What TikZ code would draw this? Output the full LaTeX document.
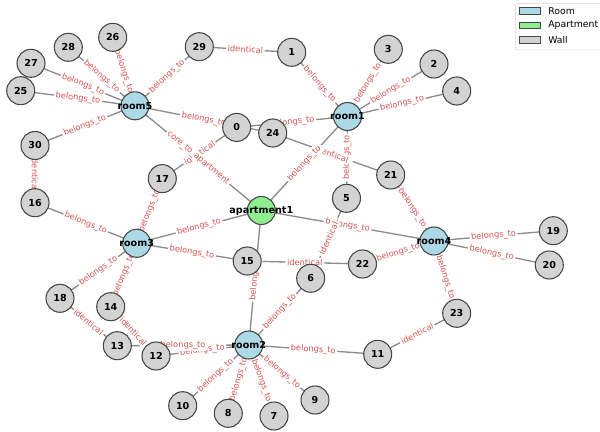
\documentclass[tikz,border=0pt]{standalone}
\usepackage{fontspec}
\setmainfont{DejaVu Sans}
\pgfdeclarelayer{edgelayer}
\pgfdeclarelayer{labellayer}
\pgfsetlayers{edgelayer,labellayer,main}
\definecolor{wallc}{RGB}{211,211,211}
\definecolor{roomc}{RGB}{173,216,230}
\definecolor{aptc}{RGB}{144,238,144}
\definecolor{edgec}{RGB}{140,140,140}
\definecolor{labc}{RGB}{218,82,82}
\definecolor{borderc}{RGB}{70,70,70}
\tikzset{
  base/.style={circle, draw=borderc, line width=0.8pt, minimum size=21pt, inner sep=0pt,
    font=\fontsize{7.2}{8}\selectfont\bfseries},
  wall/.style={base, fill=wallc},
  room/.style={base, fill=roomc},
  apt/.style={base, fill=aptc},
  nodelab/.style={font=\fontsize{7.2}{8}\selectfont\bfseries, inner sep=0pt, text=black},
  edgeline/.style={draw=edgec, line width=1pt},
  elab/.style={midway, sloped, fill=white, rounded corners=1.5pt, inner sep=1.2pt,
    text=labc, font=\fontsize{6.2}{7}\selectfont},
  legpatch/.style={draw=borderc, line width=0.6pt},
  legtext/.style={anchor=west, inner sep=0pt, font=\fontsize{7}{8}\selectfont}
}
\newcommand\myedge[3]{%
  \begin{pgfonlayer}{edgelayer}\draw[edgeline] (#1.center) -- (#2.center);\end{pgfonlayer}%
  \begin{pgfonlayer}{labellayer}\path (#1.center) -- (#2.center) node[elab] {#3};\end{pgfonlayer}}
\begin{document}
\begin{tikzpicture}[x=0.75pt, y=-0.75pt]
\useasboundingbox (0,0) rectangle (600,432);
\clip (0,0) rectangle (600,432);
% nodes
\node[room, label={[nodelab]center:room5}] (room5) at (135,105.8) {};
\node[room, label={[nodelab]center:room1}] (room1) at (347.5,116.5) {};
\node[room, label={[nodelab]center:room3}] (room3) at (136.7,243.3) {};
\node[room, label={[nodelab]center:room4}] (room4) at (434,241) {};
\node[room, label={[nodelab]center:room2}] (room2) at (248.8,345) {};
\node[apt, label={[nodelab]center:apartment1}] (apt) at (261.3,210.5) {};
\node[wall] (n0) at (236.7,127.4) {0};
\node[wall] (n1) at (291.7,52.3) {1};
\node[wall] (n2) at (434,64) {2};
\node[wall] (n3) at (388.3,49.3) {3};
\node[wall] (n4) at (456.7,91) {4};
\node[wall] (n5) at (346.5,198.3) {5};
\node[wall] (n6) at (310.7,278.3) {6};
\node[wall] (n7) at (274,416) {7};
\node[wall] (n8) at (228.3,413.3) {8};
\node[wall] (n9) at (315,400) {9};
\node[wall] (n10) at (182.7,405.7) {10};
\node[wall] (n11) at (377.7,354.3) {11};
\node[wall] (n12) at (156,356) {12};
\node[wall] (n13) at (117.3,345.7) {13};
\node[wall] (n14) at (110.7,306.7) {14};
\node[wall] (n15) at (247.2,261) {15};
\node[wall] (n16) at (35,202.7) {16};
\node[wall] (n17) at (162.3,178.6) {17};
\node[wall] (n18) at (60,298.3) {18};
\node[wall] (n19) at (553.3,230.7) {19};
\node[wall] (n20) at (549.3,265) {20};
\node[wall] (n21) at (390.7,175) {21};
\node[wall] (n22) at (362.5,264) {22};
\node[wall] (n23) at (456.7,313.3) {23};
\node[wall] (n24) at (272.7,133) {24};
\node[wall] (n25) at (20.7,90.7) {25};
\node[wall] (n26) at (112.7,37.3) {26};
\node[wall] (n27) at (31,63.3) {27};
\node[wall] (n28) at (68.3,47.3) {28};
\node[wall] (n29) at (199.3,46.7) {29};
\node[wall] (n30) at (35,145.5) {30};
% edges
\myedge{room5}{n28}{belongs\_to}
\myedge{room5}{n26}{belongs\_to}
\myedge{room5}{n27}{belongs\_to}
\myedge{room5}{n25}{belongs\_to}
\myedge{room5}{n29}{belongs\_to}
\myedge{room5}{n30}{belongs\_to}
\myedge{room5}{n24}{belongs\_to}
\myedge{n0}{n17}{identical}
\myedge{room5}{apt}{core\_to\_apartment}
\myedge{n29}{n1}{identical}
\myedge{n1}{room1}{belongs\_to}
\myedge{room1}{n3}{belongs\_to}
\myedge{room1}{n2}{belongs\_to}
\myedge{room1}{n4}{belongs\_to}
\myedge{n0}{room1}{belongs\_to}
\myedge{room1}{n5}{belongs\_to}
\myedge{n24}{n21}{identical}
\myedge{room1}{apt}{belongs\_to}
\myedge{n30}{n16}{identical}
\myedge{n16}{room3}{belongs\_to}
\myedge{n17}{room3}{belongs\_to}
\myedge{room3}{apt}{belongs\_to}
\myedge{room3}{n15}{belongs\_to}
\myedge{room3}{n18}{belongs\_to}
\myedge{room3}{n14}{belongs\_to}
\myedge{n14}{n12}{identical}
\myedge{n18}{n13}{identical}
\myedge{n12}{room2}{belongs\_to}
\myedge{n13}{room2}{belongs\_to}
\myedge{apt}{room2}{belongs\_to}
\myedge{room2}{n6}{belongs\_to}
\myedge{room2}{n11}{belongs\_to}
\myedge{room2}{n10}{belongs\_to}
\myedge{room2}{n8}{belongs\_to}
\myedge{room2}{n7}{belongs\_to}
\myedge{room2}{n9}{belongs\_to}
\myedge{n15}{n22}{identical}
\myedge{apt}{room4}{belongs\_to}
\myedge{n6}{n5}{identical}
\myedge{n22}{room4}{belongs\_to}
\myedge{room4}{n21}{belongs\_to}
\myedge{room4}{n19}{belongs\_to}
\myedge{room4}{n20}{belongs\_to}
\myedge{room4}{n23}{belongs\_to}
\myedge{n23}{n11}{identical}
% legend
\node[draw=gray!30, fill=white, rounded corners=2pt, minimum width=68pt, minimum height=35pt,
  anchor=north west, inner sep=0pt] (legend) at (515,3) {};
\node[legpatch, fill=roomc, minimum width=16pt, minimum height=5pt, inner sep=0pt] (lp1) at (530,10.7) {};
\node[legpatch, fill=aptc, minimum width=16pt, minimum height=5pt, inner sep=0pt] (lp2) at (530,25.3) {};
\node[legpatch, fill=wallc, minimum width=16pt, minimum height=5pt, inner sep=0pt] (lp3) at (530,40) {};
\node[legtext] (lt1) at (548,10.7) {Room};
\node[legtext] (lt2) at (548,25.3) {Apartment};
\node[legtext] (lt3) at (548,40) {Wall};
\end{tikzpicture}
\end{document}
